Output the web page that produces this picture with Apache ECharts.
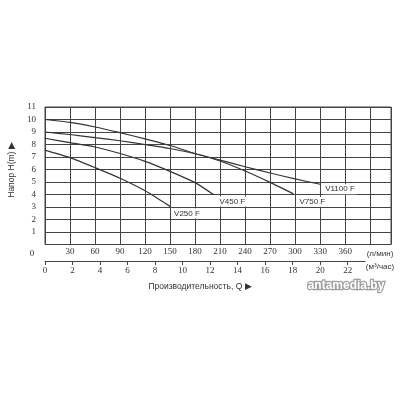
<!DOCTYPE html>
<html><head><meta charset="utf-8">
<script src="https://cdn.jsdelivr.net/npm/echarts@6/dist/echarts.min.js"></script>
<style>html,body{margin:0;padding:0;background:#fff}#c{width:400px;height:400px}</style>
</head><body><div id="c"></div>
<script>
// Flow in l/min, head in m
const v250Flow  = [0, 30, 60, 90, 120, 150];
const v250Head  = [7.55, 6.95, 6.15, 5.3, 4.3, 3.05];
const v450Flow  = [0, 30, 60, 90, 120, 150, 180, 202];
const v450Head  = [8.5, 8.15, 7.8, 7.28, 6.65, 5.85, 4.95, 4.0];
const v750Flow  = [0, 30, 60, 90, 120, 150, 180, 210, 240, 270, 298];
const v750Head  = [9.0, 8.8, 8.55, 8.3, 8.0, 7.68, 7.26, 6.68, 5.88, 4.97, 4.05];
const v1100Flow = [0, 30, 60, 90, 120, 150, 180, 210, 240, 270, 300, 330];
const v1100Head = [10, 9.77, 9.4, 8.95, 8.45, 7.92, 7.28, 6.75, 6.22, 5.72, 5.25, 4.82];
const seriesNames = ['V250 F', 'V450 F', 'V750 F', 'V1100 F'];
const labelOffsets = [[0, 7], [2, 7], [2, 8], [1, 5]];

const pair = (xs, ys) => xs.map((x, i) => [x, ys[i]]);
const allFlows = [v250Flow, v450Flow, v750Flow, v1100Flow];
const allHeads = [v250Head, v450Head, v750Head, v1100Head];

const lineColor = '#333';
const gridColor = '#444';
const serif = 'Liberation Serif';
const sans = 'Liberation Sans';

const chart = echarts.init(document.getElementById('c'), null, {renderer: 'canvas'});
chart.setOption({
  animation: false,
  backgroundColor: '#fff',
  grid: [
    {left: 45, top: 107, width: 346, height: 137.5, show: true, borderColor: gridColor, borderWidth: 1, backgroundColor: 'transparent'},
    {left: 45, top: 260, width: 320, height: 1}
  ],
  xAxis: [
    {
      type: 'value', gridIndex: 0, min: 0, max: 415, interval: 30,
      axisLine: {show: false}, axisTick: {show: false},
      splitLine: {show: true, lineStyle: {color: gridColor, width: 1}},
      axisLabel: {
        margin: 3, color: '#333', fontFamily: serif, fontSize: 9,
        showMaxLabel: false,
        formatter: v => (v === 0 || v > 360) ? '' : String(v)
      }
    },
    {
      type: 'value', gridIndex: 1, min: 0, max: 23.26, interval: 2, position: 'bottom',
      axisLine: {show: true, lineStyle: {color: gridColor, width: 1}},
      axisTick: {show: true, length: 4, lineStyle: {color: gridColor}},
      splitLine: {show: false},
      axisLabel: {
        margin: 5, color: '#333', fontFamily: serif, fontSize: 9,
        showMaxLabel: false,
        formatter: v => (Math.abs(v % 2) < 1e-6 && v <= 22) ? String(v) : ''
      }
    }
  ],
  yAxis: [
    {
      type: 'value', gridIndex: 0, min: 0, max: 11, interval: 1,
      axisLine: {show: false}, axisTick: {show: false},
      splitLine: {show: true, lineStyle: {color: gridColor, width: 1}},
      axisLabel: {
        margin: 9, color: '#333', fontFamily: serif, fontSize: 9,
        formatter: v => v === 0 ? '' : String(v)
      }
    },
    {type: 'value', gridIndex: 1, show: false, min: 0, max: 1}
  ],
  series: allFlows.map((f, i) => ({
    type: 'line', name: seriesNames[i], xAxisIndex: 0, yAxisIndex: 0,
    data: pair(f, allHeads[i]),
    smooth: 0.2, showSymbol: false, symbol: 'none',
    lineStyle: {color: lineColor, width: 1.2},
    endLabel: {
      show: true, formatter: seriesNames[i], distance: 2,
      offset: labelOffsets[i],
      color: '#333', fontFamily: sans, fontSize: 8,
      backgroundColor: '#fff', padding: [1, 2]
    }
  })),
  graphic: [
    {type: 'text', x: 32, y: 254, style: {text: '0', fill: '#333', font: '9px "' + serif + '"', textAlign: 'center', textVerticalAlign: 'middle'}},
    {type: 'text', x: 380, y: 254, style: {text: '(л/мин)', fill: '#333', font: '8px "' + sans + '"', textAlign: 'center', textVerticalAlign: 'middle'}},
    {type: 'text', x: 380, y: 267, style: {text: '(м³/час)', fill: '#333', font: '8px "' + sans + '"', textAlign: 'center', textVerticalAlign: 'middle'}},
    {type: 'text', x: 200, y: 287, style: {text: 'Производительность, Q ▶', fill: '#333', font: '8.5px "' + sans + '"', textAlign: 'center', textVerticalAlign: 'middle'}},
    {type: 'text', x: 12, y: 170, rotation: Math.PI / 2, style: {text: 'Напор H(m) ▶', fill: '#333', font: '8.5px "' + sans + '"', textAlign: 'center', textVerticalAlign: 'middle'}},
    {type: 'text', x: 346, y: 286, style: {text: 'antamedia.by', fill: '#fff', font: 'bold 12px "' + sans + '"', textAlign: 'center', textVerticalAlign: 'middle', stroke: 'rgba(150,150,150,0.9)', lineWidth: 2.5, shadowBlur: 5, shadowColor: 'rgba(0,0,0,0.5)', shadowOffsetX: 0, shadowOffsetY: 0}}
  ]
});
</script></body></html>
